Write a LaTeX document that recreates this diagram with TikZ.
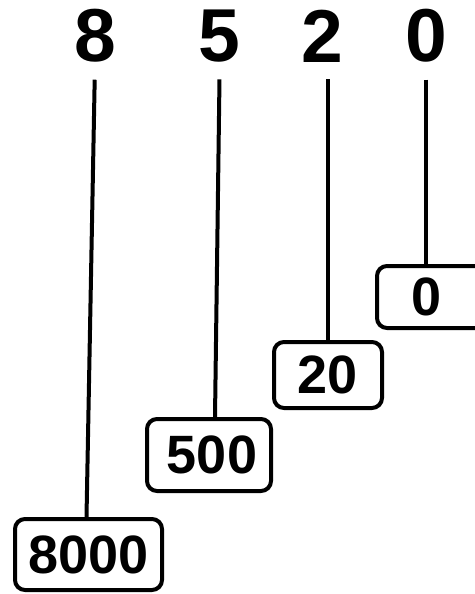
\documentclass[tikz,border=0pt]{standalone}
\usepackage{fontspec}
\setmainfont{Liberation Sans}
\usepackage{tikz}
\usetikzlibrary{positioning}
\tikzstyle{digit} = [inner sep=0pt, outer sep=0pt, font=\fontsize{75}{75}\selectfont\bfseries]
\tikzstyle{numbox} = [rectangle, rounded corners=10pt, draw=black, line width=4pt, inner sep=0pt, text centered, font=\fontsize{54}{54}\selectfont\bfseries]
\tikzstyle{link} = [line width=4pt, shorten <=17pt]

\begin{document}
\begin{tikzpicture}[x=1pt, y=-1pt]
  \useasboundingbox (0,0) rectangle (474,594);

  \node (d8) [digit, anchor=base] at (95,62) {8};
  \node (d5) [digit, right=83pt of d8] {5};
  \node (d2) [digit, right=61pt of d5] {2};
  \node (d0) [digit, right=62pt of d2] {0};

  \node (b0) [numbox, minimum width=110pt, minimum height=62pt] at (432,297) {\hspace*{-10pt}0};
  \node (b20) [numbox, minimum width=108pt, minimum height=66pt] at (328,375) {20};
  \node (b500) [numbox, minimum width=124pt, minimum height=72pt] at (209,455) {\hspace*{6pt}500};
  \node (b8000) [numbox, minimum width=147pt, minimum height=71pt] at (88.5,554.5) {8000};

  \draw [link] (d8.south) -- ([xshift=-2pt]b8000.north);
  \draw [link] (d5.south) -- ([xshift=6pt]b500.north);
  \draw [link] (d2.south -| b20.north) -- (b20.north);
  \draw [link] (d0.south) -- (d0.south |- b0.north);

\end{tikzpicture}
\end{document}
